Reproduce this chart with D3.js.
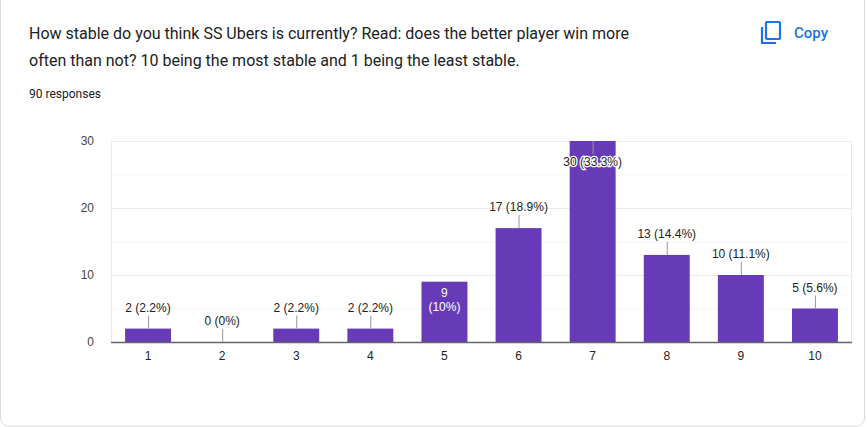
<!DOCTYPE html>
<html>
<head>
<meta charset="utf-8">
<script src="https://cdn.jsdelivr.net/npm/d3@7"></script>
<style>
  body { margin: 0; background: #fff; font-family: Roboto, Arial, sans-serif; }
  svg { display: block; }
</style>
</head>
<body>
<svg id="chart" width="867" height="427"></svg>
<script>
const categories = ["1", "2", "3", "4", "5", "6", "7", "8", "9", "10"];
const counts = [2, 0, 2, 2, 9, 17, 30, 13, 10, 5];
const percents = ["2.2%", "0%", "2.2%", "2.2%", "10%", "18.9%", "33.3%", "14.4%", "11.1%", "5.6%"];
// where google puts the label: above (with leader), inside (white), top (overflowing max bar)
const placement = ["above", "above", "above", "above", "inside", "above", "top", "above", "above", "above"];
const yTicks = [0, 10, 20, 30];
const total = 90;

const svg = d3.select("#chart");
const W = 867, H = 427;

// card
svg.append("rect")
  .attr("x", 0.5).attr("y", -10).attr("width", W - 3).attr("height", H + 9)
  .attr("rx", 8).attr("fill", "#fff").attr("stroke", "#dadce0");

// title
const title = svg.append("text").attr("fill", "#202124").style("font-size", "16px");
title.append("tspan").attr("x", 29).attr("y", 39)
  .text("How stable do you think SS Ubers is currently? Read: does the better player win more");
title.append("tspan").attr("x", 29).attr("y", 66)
  .text("often than not? 10 being the most stable and 1 being the least stable.");
svg.append("text").attr("x", 29).attr("y", 98).attr("fill", "#202124")
  .style("font-size", "12px").text(total + " responses");

// copy button
const copy = svg.append("g").attr("fill", "none").attr("stroke", "#1a73e8").attr("stroke-width", 2.2);
copy.append("rect").attr("x", 766).attr("y", 22).attr("width", 14).attr("height", 17).attr("rx", 1);
copy.append("path").attr("d", "M762,27 V43 H776");
svg.append("text").attr("x", 794).attr("y", 38).attr("fill", "#1a73e8")
  .style("font-size", "15px").style("font-weight", 500).text("Copy");

const margin = { top: 141, right: 15, bottom: 85, left: 111 };
const x = d3.scaleBand().domain(categories)
  .range([margin.left, W - margin.right]).paddingInner(0.38).paddingOuter(0.19);
const y = d3.scaleLinear().domain([0, 30]).range([H - margin.bottom, margin.top]);

// grid
svg.append("g").selectAll("line").data(d3.range(0, 31, 5)).join("line")
  .attr("x1", margin.left).attr("x2", W - margin.right)
  .attr("y1", d => y(d) + 0.5).attr("y2", d => y(d) + 0.5)
  .attr("stroke", d => d % 10 === 0 ? "#ebebeb" : "#f5f5f5");
svg.append("line").attr("x1", margin.left + 0.5).attr("x2", margin.left + 0.5)
  .attr("y1", y(30)).attr("y2", y(0)).attr("stroke", "#ebebeb");
svg.append("line").attr("x1", W - margin.right - 0.5).attr("x2", W - margin.right - 0.5)
  .attr("y1", y(30)).attr("y2", y(0)).attr("stroke", "#ebebeb");

// y axis
const yAxis = svg.append("g").attr("transform", `translate(${margin.left - 14},0)`)
  .call(d3.axisLeft(y).tickValues(yTicks).tickSize(0));
yAxis.select(".domain").remove();
yAxis.selectAll("text").attr("fill", "#444").style("font-size", "12px").style("font-family", "Arial, sans-serif");

// bars
const data = categories.map((c, i) => ({ c, v: counts[i], p: percents[i], pos: placement[i] }));
svg.append("g").selectAll("rect").data(data).join("rect")
  .attr("x", d => x(d.c)).attr("width", x.bandwidth())
  .attr("y", d => y(d.v)).attr("height", d => Math.max(y(0) - y(d.v), 1))
  .attr("fill", "#673ab7");

// baseline
svg.append("line").attr("x1", margin.left).attr("x2", W - margin.right)
  .attr("y1", y(0) + 0.5).attr("y2", y(0) + 0.5).attr("stroke", "#666").attr("stroke-width", 1.5);

// x axis
const xAxis = svg.append("g").attr("transform", `translate(0,${y(0) + 6})`)
  .call(d3.axisBottom(x).tickSize(0));
xAxis.select(".domain").remove();
xAxis.selectAll("text").attr("fill", "#222").style("font-size", "12px").style("font-family", "Arial, sans-serif");

// labels
const lab = svg.append("g").style("font-size", "12px").style("font-family", "Arial, sans-serif")
  .attr("text-anchor", "middle");
data.forEach(d => {
  const cx = x(d.c) + x.bandwidth() / 2;
  const top = y(d.v);
  if (d.pos === "above") {
    lab.append("line").attr("x1", cx + 0.5).attr("x2", cx + 0.5)
      .attr("y1", top).attr("y2", top - 13).attr("stroke", "#999");
    lab.append("text").attr("x", cx).attr("y", top - 17).attr("fill", "#222")
      .text(`${d.v} (${d.p})`);
  } else if (d.pos === "inside") {
    lab.append("text").attr("x", cx).attr("y", top + 15).attr("fill", "#fff").text(d.v);
    lab.append("text").attr("x", cx).attr("y", top + 29).attr("fill", "#fff").text(`(${d.p})`);
  } else {
    lab.append("line").attr("x1", cx + 0.5).attr("x2", cx + 0.5)
      .attr("y1", top).attr("y2", top + 13).attr("stroke", "#999");
    lab.append("text").attr("x", cx).attr("y", top + 25).attr("fill", "#222")
      .attr("stroke", "#fff").attr("stroke-width", 2.5).attr("paint-order", "stroke")
      .text(`${d.v} (${d.p})`);
  }
});
</script>
</body>
</html>
